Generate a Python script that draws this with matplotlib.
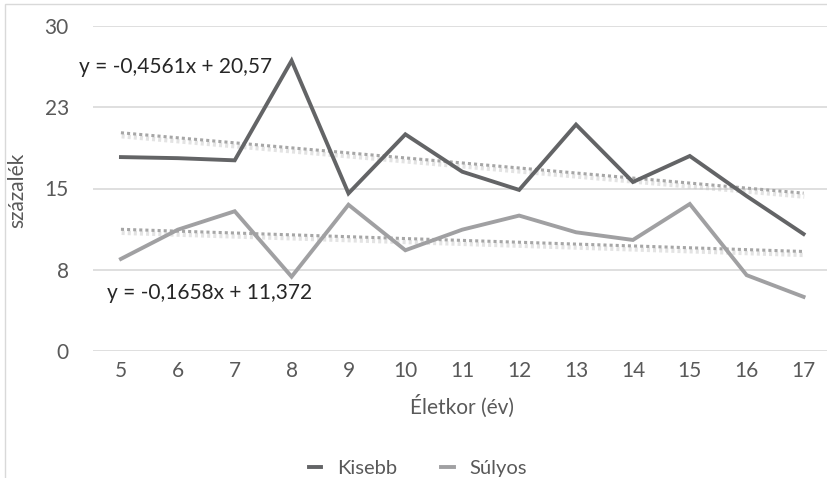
import matplotlib.pyplot as plt
import matplotlib.patheffects as pe
import numpy as np

ages = np.arange(5, 18)
kisebb = [17.9, 17.8, 17.6, 26.8, 14.55, 20.0, 16.55, 14.87, 20.9, 15.6, 18.0, 14.3, 10.8]
sulyos = [8.5, 11.2, 12.9, 6.86, 13.5, 9.3, 11.2, 12.5, 10.96, 10.25, 13.57, 7.0, 5.0]
series_names = ["Kisebb", "Súlyos"]
eq_labels = ["y = -0,4561x + 20,57", "y = -0,1658x + 11,372"]
yticks = [0, 7.5, 15, 22.5, 30]
ytick_labels = ["0", "8", "15", "23", "30"]

plt.rcParams["font.family"] = ["Lato", "DejaVu Sans"]
txt = "#595959"
fs = 15

W, H = 827, 478
fig = plt.figure(figsize=(W / 100, H / 100), dpi=100)
ax = fig.add_axes([92.5 / W, 1 - 351 / H, 739.5 / W, 325 / H])

# outer chart border
fig.patches.append(plt.Rectangle((4.5 / W, -0.1), 2, 1.1 - 4.5 / H, transform=fig.transFigure,
                                 fill=False, edgecolor="#D9D9D9", linewidth=1))

ax.set_xlim(4.5, 17.5)
ax.set_ylim(0, 30)
ax.set_yticks(yticks, ytick_labels)
ax.set_xticks(ages)
ax.tick_params(length=0, labelsize=fs, labelcolor=txt)
ax.tick_params(axis="y", pad=17)
ax.tick_params(axis="x", pad=7)
for s in ax.spines.values():
    s.set_visible(False)
ax.grid(axis="y", color="#D9D9D9", linewidth=1.2)
ax.set_axisbelow(True)

colors = ["#636466", "#A0A0A2"]
lines = []
for vals, c, name in zip([kisebb, sulyos], colors, series_names):
    (ln,) = ax.plot(ages, vals, color=c, linewidth=2.8, label=name, solid_joinstyle="miter", zorder=3)
    lines.append(ln)

# linear trendlines over the data range
shadow = [pe.SimpleLineShadow(offset=(0.5, -2.5), shadow_color="#BBBBBB", alpha=0.4, linewidth=3.2),
          pe.Normal()]
for vals in [kisebb, sulyos]:
    x_idx = np.arange(1, len(ages) + 1)
    k, b = np.polyfit(x_idx, vals, 1)
    ax.plot(ages, k * x_idx + b, color="#A6A6A6", linewidth=2.2, linestyle=(0, (1, 1)),
            dash_capstyle="butt", path_effects=shadow, zorder=2)

ax.text(79 / W, 1 - 67 / H, eq_labels[0], transform=fig.transFigure, fontsize=fs,
        color="#262626", va="center", ha="left")
ax.text(107 / W, 1 - 293 / H, eq_labels[1], transform=fig.transFigure, fontsize=fs,
        color="#262626", va="center", ha="left")

fig.text(17 / W, 1 - 190 / H, "százalék", rotation=90, fontsize=fs, color=txt,
         va="center", ha="center")
fig.text(462 / W, 1 - 406 / H, "Életkor (év)", fontsize=fs, color=txt, va="center", ha="center")

fig.legend(handles=lines, loc="center", bbox_to_anchor=(418 / W, 1 - 468 / H), ncol=2,
           frameon=False, fontsize=14.5, labelcolor=txt, handlelength=0.6, columnspacing=2.2,
           handletextpad=0.8)

fig.savefig("out.png", dpi=100)
